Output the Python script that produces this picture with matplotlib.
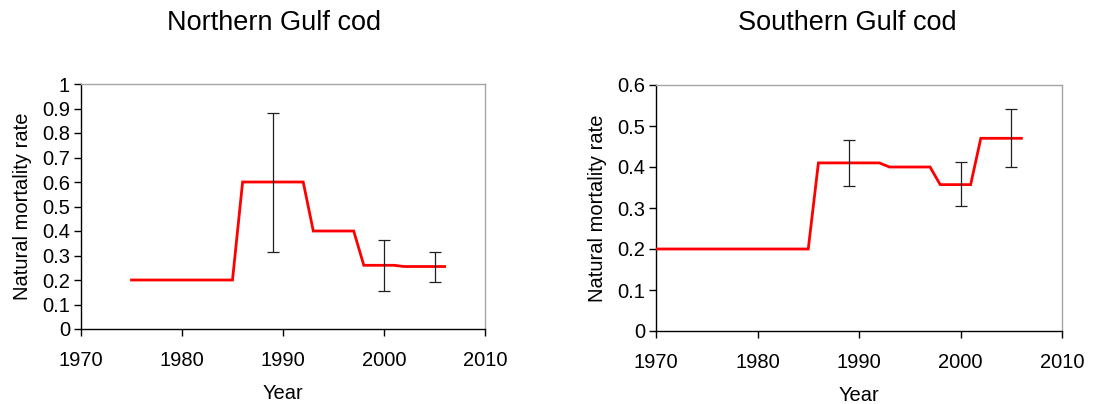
import matplotlib
matplotlib.use("Agg")
import matplotlib.pyplot as plt
import numpy as np

plt.rcParams['font.family'] = ['Liberation Sans', 'DejaVu Sans']

# Northern Gulf cod
north_years = list(range(1975, 2007))
north_m = [0.2]*11 + [0.6]*7 + [0.4]*5 + [0.26]*4 + [0.255]*5
north_err_years = [1989, 2000, 2005]
north_err_low = [0.313, 0.155, 0.19]
north_err_high = [0.882, 0.365, 0.315]

# Southern Gulf cod
south_years = list(range(1970, 2007))
south_m = [0.2]*16 + [0.41]*7 + [0.40]*5 + [0.357]*4 + [0.47]*5
south_err_years = [1989, 2000, 2005]
south_err_low = [0.354, 0.305, 0.40]
south_err_high = [0.465, 0.411, 0.541]

titles = ["Northern Gulf cod", "Southern Gulf cod"]
x_ticks = [1970, 1980, 1990, 2000, 2010]

fig = plt.figure(figsize=(11.16, 4.04), dpi=100)
W, H = 1116, 404
ax1 = fig.add_axes([81/W, 1-329/H, (485-81)/W, (329-84)/H])
ax2 = fig.add_axes([656/W, 1-331/H, (1062-656)/W, (331-85)/H])

def draw(ax, years, m, ey, lo, hi, ymax, yticks):
    ax.plot(years, m, color='#ff0000', lw=2.0, zorder=3, solid_joinstyle='miter')
    mid = [m[years.index(y)] for y in ey]
    yerr = [np.array(mid) - np.array(lo), np.array(hi) - np.array(mid)]
    ax.errorbar(ey, mid, yerr=yerr, fmt='none', ecolor='#202020', elinewidth=0.9,
                capsize=4.5, capthick=0.9, zorder=4)
    ax.set_xlim(1970, 2010)
    ax.set_ylim(0, ymax)
    ax.set_xticks(x_ticks)
    ax.set_yticks(yticks)
    ax.set_yticklabels([('%g' % t) for t in yticks])
    for s in ['top', 'right']:
        ax.spines[s].set_color('#a6a6a6')
        ax.spines[s].set_linewidth(1.0)
    for s in ['left', 'bottom']:
        ax.spines[s].set_color('black')
        ax.spines[s].set_linewidth(1.0)
    ax.tick_params(direction='out', length=5, width=1, labelsize=14.5, pad=3)
    ax.tick_params(axis='x', pad=11)
    ax.set_xlabel('Year', fontsize=14.5, labelpad=10)
    ax.set_ylabel('Natural mortality rate', fontsize=14.5, labelpad=7)

draw(ax1, north_years, north_m, north_err_years, north_err_low, north_err_high,
     1.0, [0, 0.1, 0.2, 0.3, 0.4, 0.5, 0.6, 0.7, 0.8, 0.9, 1])
draw(ax2, south_years, south_m, south_err_years, south_err_low, south_err_high,
     0.6, [0, 0.1, 0.2, 0.3, 0.4, 0.5, 0.6])

fig.text(274/W, 1-23/H, titles[0], ha='center', va='center', fontsize=19.5)
fig.text(847/W, 1-23/H, titles[1], ha='center', va='center', fontsize=19.5)

fig.savefig('out.png', dpi=100)
